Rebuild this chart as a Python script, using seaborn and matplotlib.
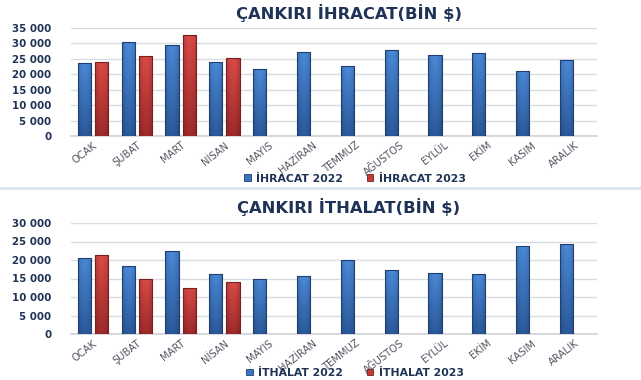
import numpy as np
import pandas as pd
import matplotlib
matplotlib.use("Agg")
import matplotlib.pyplot as plt
import seaborn as sns
from matplotlib.patches import Patch
from matplotlib.ticker import FuncFormatter, MultipleLocator

months = ["OCAK", "ŞUBAT", "MART", "NİSAN", "MAYIS", "HAZİRAN", "TEMMUZ",
          "AĞUSTOS", "EYLÜL", "EKİM", "KASIM", "ARALIK"]
ihracat_2022 = [23800, 30450, 29550, 23900, 21650, 27300, 22600, 27850, 26400, 27050, 21000, 24600]
ihracat_2023 = [23900, 26000, 32800, 25250, np.nan, np.nan, np.nan, np.nan, np.nan, np.nan, np.nan, np.nan]
ithalat_2022 = [20600, 18250, 22400, 16350, 14900, 15550, 19980, 17180, 16450, 16100, 23780, 24400]
ithalat_2023 = [21250, 15000, 12550, 14000, np.nan, np.nan, np.nan, np.nan, np.nan, np.nan, np.nan, np.nan]

title_top = "ÇANKIRI İHRACAT(BİN $)"
title_bot = "ÇANKIRI İTHALAT(BİN $)"
leg_top = ["İHRACAT 2022", "İHRACAT 2023"]
leg_bot = ["İTHALAT 2022", "İTHALAT 2023"]

NAVY = "#1F3356"
BLUE = "#3B74C0"
RED = "#C33B3A"

sns.set_theme(style="white")
plt.rcParams['font.family'] = ['DejaVu Sans']

W, H = 641, 380
fig = plt.figure(figsize=(W / 100, H / 100), dpi=100)
fig.patch.set_facecolor("white")


def ax_rect(l, t, r, b):
    return [l / W, 1 - b / H, (r - l) / W, (b - t) / H]


def grad_bars_split(ax):
    pats = list(ax.patches)
    blue_p = pats[:12]
    red_p = pats[12:]
    for group, top, bot in [(blue_p, "#4A88D6", "#2B5A9C"), (red_p, "#D84A47", "#9E2B2A")]:
        for p in group:
            x, y, w, h = p.get_x(), p.get_y(), p.get_width(), p.get_height()
            if not np.isfinite(h) or h <= 0:
                continue
            t = np.linspace(0, 1, 64)[:, None, None]
            c1 = np.array(matplotlib.colors.to_rgb(top))[None, None, :]
            c2 = np.array(matplotlib.colors.to_rgb(bot))[None, None, :]
            col = c1 * (1 - t) + c2 * t
            s = np.linspace(-1, 1, 16)[None, :, None]
            img = np.clip(col * (1 - 0.15 * s ** 2), 0, 1)
            im = ax.imshow(img, extent=[x, x + w, y, y + h], aspect="auto",
                           zorder=3.5, interpolation="bilinear")
            im.set_clip_path(p)
            p.set_zorder(4)
            p.set_facecolor("none")


def make_panel(rect, v22, v23, names, ymax, step, title, title_y, leg_y):
    ax = fig.add_axes(rect)
    df = pd.DataFrame({
        "Ay": months * 2,
        "Deger": list(v22) + list(v23),
        "Seri": [names[0]] * 12 + [names[1]] * 12,
    })
    sns.barplot(data=df, x="Ay", y="Deger", hue="Seri", order=months,
                hue_order=names, palette=[BLUE, RED], width=0.78, gap=0.23,
                edgecolor="#1E3F70", linewidth=0.8, ax=ax, legend=False,
                errorbar=None, zorder=3)
    for p in ax.patches[12:]:
        p.set_edgecolor("#7A1E1E")
    grad_bars_split(ax)
    ax.set_xlim(-0.5, 11.5)
    ax.set_ylim(0, ymax)
    ax.yaxis.set_major_locator(MultipleLocator(step))
    ax.yaxis.set_major_formatter(FuncFormatter(lambda v, _: f"{int(v):,}".replace(",", " ")))
    ax.grid(axis="y", color="#D9DDE3", linewidth=1.0, zorder=0)
    ax.set_axisbelow(True)
    for s in ["top", "right", "left"]:
        ax.spines[s].set_visible(False)
    ax.spines["bottom"].set_color("#D0D4DA")
    ax.set_xlabel("")
    ax.set_ylabel("")
    ax.tick_params(axis="y", length=0, pad=14, labelsize=7.4, labelcolor=NAVY)
    ax.tick_params(axis="x", length=0, pad=3, labelsize=7.2, labelcolor="#505560")
    for lab in ax.get_yticklabels():
        lab.set_fontweight("bold")
    for lab in ax.get_xticklabels():
        lab.set_rotation(38)
        lab.set_ha("right")
        lab.set_rotation_mode("anchor")
    fig.text(0.5 * (205 + 493) / W, 1 - title_y / H, title, ha="center", va="center",
             fontsize=11.8, fontweight="bold", color=NAVY)
    handles = [Patch(facecolor=BLUE, edgecolor="#1E3F70", linewidth=0.6),
               Patch(facecolor=RED, edgecolor="#7A1E1E", linewidth=0.6)]
    leg = fig.legend(handles, names, loc="center", bbox_to_anchor=(355 / W, 1 - leg_y / H),
                     ncol=2, frameon=False, fontsize=7.8, handlelength=0.6, handleheight=0.55,
                     handletextpad=0.5, columnspacing=2.2)
    for t in leg.get_texts():
        t.set_fontweight("bold")
        t.set_color(NAVY)
    return ax


make_panel(ax_rect(71, 28, 597, 136), ihracat_2022, ihracat_2023, leg_top,
           35000, 5000, title_top, 12.5, 178.5)
make_panel(ax_rect(71, 223, 597, 334), ithalat_2022, ithalat_2023, leg_bot,
           30000, 5000, title_bot, 207, 373)

fig.add_artist(plt.Line2D([0, 1], [1 - 188 / H, 1 - 188 / H], transform=fig.transFigure,
                          color="#DCE4EC", linewidth=2))

fig.savefig("out.png", dpi=100, facecolor="white")
